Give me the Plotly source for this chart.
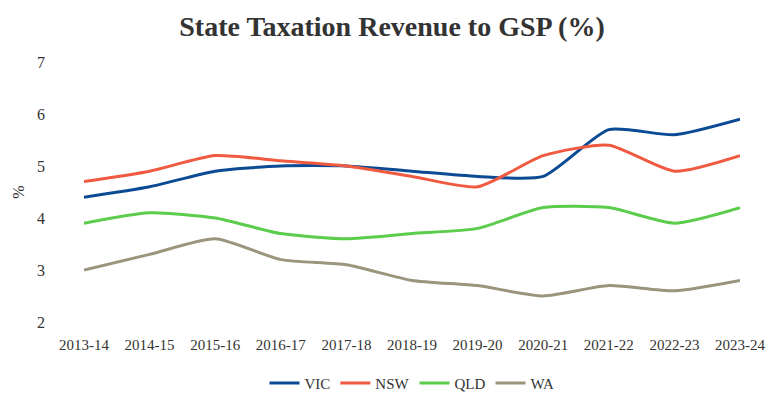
import plotly.graph_objects as go

years = ["2013-14", "2014-15", "2015-16", "2016-17", "2017-18", "2018-19",
         "2019-20", "2020-21", "2021-22", "2022-23", "2023-24"]
vic = [4.4, 4.6, 4.9, 5.0, 5.0, 4.9, 4.8, 4.8, 5.7, 5.6, 5.9]
nsw = [4.7, 4.9, 5.2, 5.1, 5.0, 4.8, 4.6, 5.2, 5.4, 4.9, 5.2]
qld = [3.9, 4.1, 4.0, 3.7, 3.6, 3.7, 3.8, 4.2, 4.2, 3.9, 4.2]
wa = [3.0, 3.3, 3.6, 3.2, 3.1, 2.8, 2.7, 2.5, 2.7, 2.6, 2.8]

series = [("VIC", vic, "#0b4a94"), ("NSW", nsw, "#f05a40"),
          ("QLD", qld, "#5ccc4c"), ("WA", wa, "#9a957c")]

FONT = "Liberation Serif"
fig = go.Figure()
for name, vals, col in series:
    fig.add_trace(go.Scatter(x=years, y=vals, name=name, mode="lines",
                             line=dict(color=col, width=3, shape="spline", smoothing=0.6)))

fig.update_layout(
    width=768, height=397,
    paper_bgcolor="white", plot_bgcolor="white",
    margin=dict(l=76, r=36, t=54, b=83, autoexpand=False),
    font=dict(family=FONT, size=15, color="#333333"),
    title=dict(text="<b>State Taxation Revenue to GSP (%)</b>", x=0.5, xanchor="center",
               y=0.955, yanchor="middle", font=dict(family=FONT, size=28, color="#333333")),
    showlegend=True,
    legend=dict(orientation="h", x=0.5, xanchor="center", yref="container", y=0.055,
                yanchor="middle", font=dict(family=FONT, size=15, color="#333333")),
    xaxis=dict(type="category", range=[0, 10], showgrid=False, zeroline=False,
               showline=False, ticks="", ticklabelstandoff=12,
               tickfont=dict(size=15)),
    yaxis=dict(range=[2, 7], dtick=1, showgrid=False, zeroline=False, showline=False,
               ticks="", ticklabelstandoff=38, tickfont=dict(size=16),
               title=dict(text="%", standoff=8, font=dict(size=16))),
)

fig.write_html("out.html")
